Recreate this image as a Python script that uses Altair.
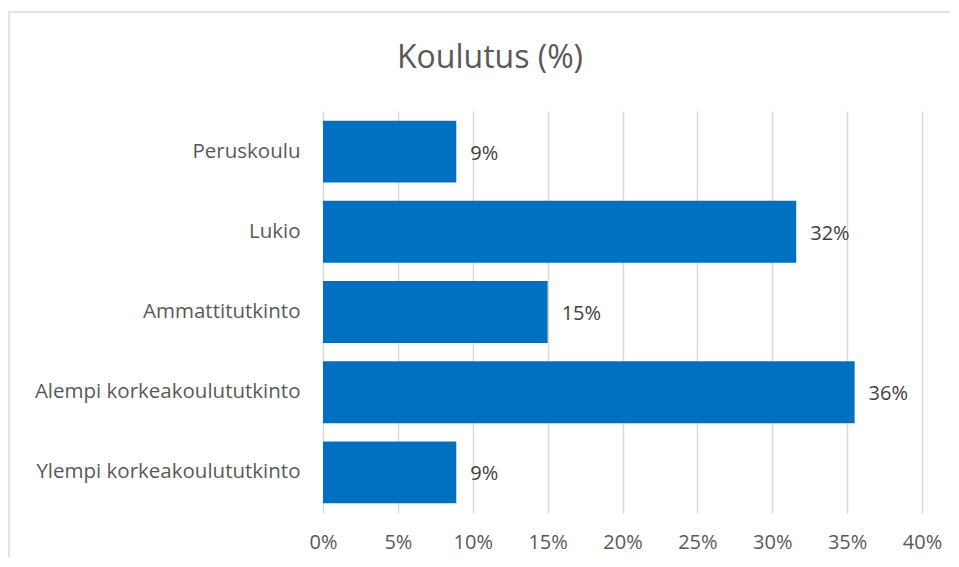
import altair as alt
import pandas as pd

categories = ["Peruskoulu", "Lukio", "Ammattitutkinto",
              "Alempi korkeakoulututkinto", "Ylempi korkeakoulututkinto"]
values = [8.9, 31.6, 15.0, 35.5, 8.9]
labels = ["9%", "32%", "15%", "36%", "9%"]
ticks = [0, 5, 10, 15, 20, 25, 30, 35, 40]
title_text = "Koulutus (%)"

df = pd.DataFrame({"cat": categories, "val": values, "lab": labels})

FONT = "Open Sans"
W, H = 599, 402

base = alt.Chart(df)

x_enc = alt.X("val:Q",
              scale=alt.Scale(domain=[0, 40], nice=False),
              axis=alt.Axis(values=ticks, labelExpr="datum.value + '%'",
                            title=None, domain=False, ticks=False, labelFlush=False,
                            grid=True, gridColor="#d9d9d9", gridWidth=1.5,
                            labelFont=FONT, labelFontSize=20, labelColor="#595959",
                            labelPadding=19))
y_enc = alt.Y("cat:N", sort=categories,
              scale=alt.Scale(paddingInner=0.23, paddingOuter=0.12),
              axis=alt.Axis(title=None, domain=False, ticks=False,
                            labelFont=FONT, labelFontSize=20.5, labelColor="#595959",
                            labelPadding=23, labelLimit=400))

one = pd.DataFrame({"t": [title_text]})

frame = alt.Chart(one).mark_rect(
    fill=None, stroke="#d9d9d9", strokeWidth=1.5, clip=False
).encode(x=alt.value(-314), x2=alt.value(700), y=alt.value(-99), y2=alt.value(500))

title = alt.Chart(one).mark_text(
    font=FONT, fontSize=32, color="#595959", align="center", baseline="middle"
).encode(x=alt.value(167), y=alt.value(-53), text="t:N")

bars = base.mark_bar(color="#0070C0").encode(x=x_enc, y=y_enc)

text = base.mark_text(align="left", baseline="middle", dx=14, dy=2,
                      font=FONT, fontSize=20, color="#404040").encode(
    x="val:Q", y=alt.Y("cat:N", sort=categories), text="lab:N")

chart = alt.layer(frame, title, bars, text).properties(
    width=W, height=H,
    autosize=alt.AutoSizeParams(type="none"),
    padding={"left": 315, "top": 103, "right": 28, "bottom": 44},
).configure_view(stroke=None)

chart.save("out.html", embed_options={"renderer": "svg", "actions": False})
